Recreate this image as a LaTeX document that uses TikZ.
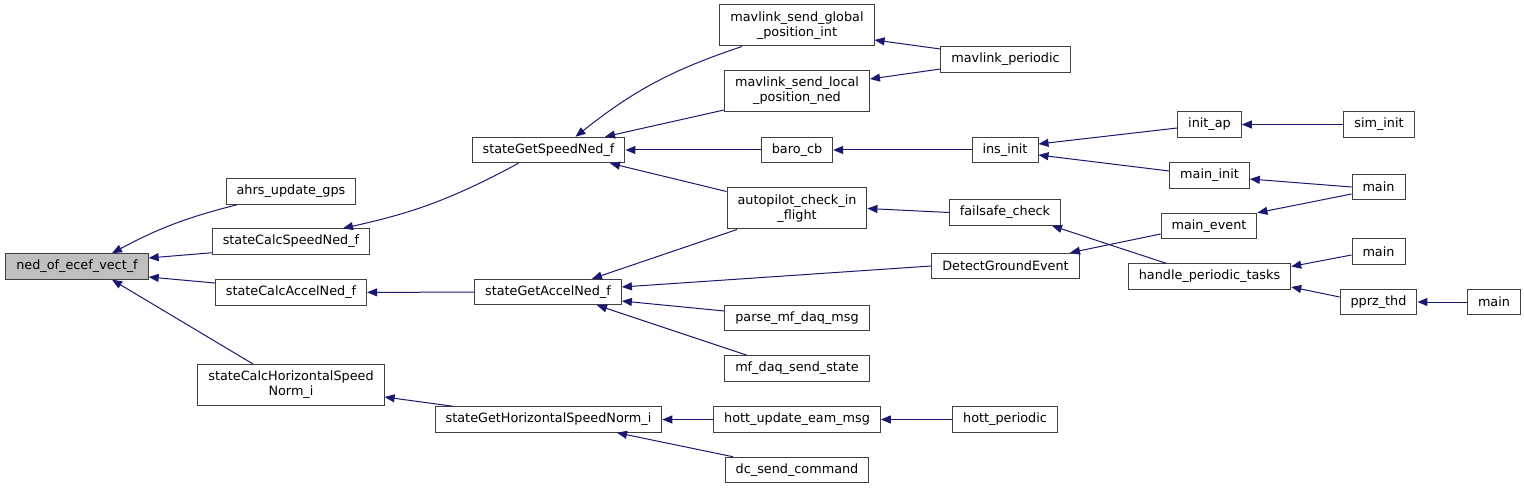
\documentclass[tikz,border=0pt]{standalone}
\usepackage{fontspec}
\setmainfont{DejaVu Sans}
\usetikzlibrary{arrows.meta}
\definecolor{edgeblue}{RGB}{25,25,112}
\definecolor{boxgray}{RGB}{64,64,64}
\definecolor{selgray}{RGB}{191,191,191}
\begin{document}
\begin{tikzpicture}[x=1pt, y=-1pt,
      fn/.style={rectangle, draw=boxgray, fill=white, line width=1pt, minimum height=25.5pt,
                 inner xsep=10.5pt, inner ysep=2pt, font=\fontsize{12.8}{15}\selectfont},
      fn2/.style={fn, minimum height=41pt, align=center},
      fnsel/.style={fn, fill=selgray},
      arr/.style={-{Triangle[length=10pt, width=8pt]}, line width=1pt, edgeblue}]
    \useasboundingbox (0,0) rectangle (1524,489);
    % column 1
    \node[fnsel] (ned) at (77,266.5) {ned\_of\_ecef\_vect\_f};
    % column 2
    \node[fn] (ahrs) at (291,191.5) {ahrs\_update\_gps};
    \node[fn] (calcSpeed) at (291,241.5) {stateCalcSpeedNed\_f};
    \node[fn] (calcAccel) at (291,292.5) {stateCalcAccelNed\_f};
    \node[fn2] (calcHoriz) at (291,385) {stateCalcHorizontalSpeed\\Norm\_i};
    % column 3
    \node[fn] (getSpeed) at (548.5,150) {stateGetSpeedNed\_f};
    \node[fn] (getAccel) at (548,292) {stateGetAccelNed\_f};
    \node[fn] (getHoriz) at (548.5,419.5) {stateGetHorizontalSpeedNorm\_i};
    % column 4
    \node[fn2] (mavGlobal) at (797,25.5) {mavlink\_send\_global\\\_position\_int};
    \node[fn2] (mavLocal) at (797,91) {mavlink\_send\_local\\\_position\_ned};
    \node[fn] (baro) at (797,150) {baro\_cb};
    \node[fn2] (autopilot) at (797,208.5) {autopilot\_check\_in\\\_flight};
    \node[fn] (parse) at (797,318) {parse\_mf\_daq\_msg};
    \node[fn] (mfdaq) at (797,368.5) {mf\_daq\_send\_state};
    \node[fn] (hottUpd) at (797,419.5) {hott\_update\_eam\_msg};
    \node[fn] (dcsend) at (797,470) {dc\_send\_command};
    % column 5
    \node[fn] (mavPeriodic) at (1005.5,59.5) {mavlink\_periodic};
    \node[fn] (insinit) at (1005,150) {ins\_init};
    \node[fn] (failsafe) at (1005,212.5) {failsafe\_check};
    \node[fn] (detect) at (1005.5,266) {DetectGroundEvent};
    \node[fn] (hottPer) at (1005,419.5) {hott\_periodic};
    % column 6
    \node[fn] (initap) at (1209.5,124.5) {init\_ap};
    \node[fn] (maininit) at (1209.5,175.5) {main\_init};
    \node[fn] (mainevent) at (1209,226) {main\_event};
    \node[fn] (handle) at (1209.5,276.5) {handle\_periodic\_tasks};
    % column 7
    \node[fn] (siminit) at (1379,124.5) {sim\_init};
    \node[fn] (mainA) at (1378.5,187) {main};
    \node[fn] (mainB) at (1378.5,251.5) {main};
    \node[fn] (pprz) at (1378.5,302) {pprz\_thd};
    % column 8
    \node[fn] (mainC) at (1494,302) {main};

    % callers of ned_of_ecef_vect_f
    \draw[arr] ([xshift=-54pt]ahrs.south) to[bend right=7] ([xshift=35pt]ned.north);
    \draw[arr] ([yshift=2pt]calcSpeed.south west) -- ([yshift=8.5pt]ned.east);
    \draw[arr] ([yshift=9.5pt]calcAccel.west) -- ([yshift=-10.5pt]ned.east);
    \draw[arr] ([xshift=-38pt]calcHoriz.north) -- ([xshift=35pt]ned.south);
    \draw[arr] ([xshift=-30pt]getSpeed.south) to[bend left=8] ([xshift=52pt]calcSpeed.north);
    \draw[arr] (getAccel) -- (calcAccel);
    \draw[arr] ([xshift=-95.5pt]getHoriz.north) -- ([yshift=-12pt]calcHoriz.east);
    % callers of the state getters
    \draw[arr] ([xshift=-55pt]mavGlobal.south) to[bend right=10] ([xshift=27pt]getSpeed.north);
    \draw[arr] ([yshift=2pt]mavLocal.south west) -- ([xshift=56.5pt]getSpeed.north);
    \draw[arr] (baro) -- (getSpeed);
    \draw[arr] ([yshift=-4pt]autopilot.north west) -- ([xshift=61.5pt]getSpeed.south);
    \draw[arr] ([xshift=-60pt]autopilot.south) -- ([xshift=44pt]getAccel.north);
    \draw[arr] (detect.west) -- ([yshift=5pt]getAccel.east);
    \draw[arr] ([yshift=7pt]parse.west) -- ([yshift=-9pt]getAccel.east);
    \draw[arr] ([xshift=-50pt]mfdaq.north) -- ([xshift=49pt]getAccel.south);
    \draw[arr] (hottUpd) -- (getHoriz);
    \draw[arr] ([xshift=-64pt]dcsend.north) -- ([xshift=68.5pt]getHoriz.south);
    % further up the call chain
    \draw[arr] ([yshift=10.5pt]mavPeriodic.west) -- ([yshift=-14.5pt]mavGlobal.east);
    \draw[arr] ([yshift=-9.5pt]mavPeriodic.west) -- ([yshift=12pt]mavLocal.east);
    \draw[arr] (insinit) -- (baro);
    \draw[arr] (failsafe.west) -- (autopilot.east);
    \draw[arr] (hottPer) -- (hottUpd);
    \draw[arr] ([yshift=-3.5pt]initap.west) -- ([yshift=6pt]insinit.east);
    \draw[arr] ([yshift=4.5pt]maininit.west) -- ([yshift=-5pt]insinit.east);
    \draw[arr] ([yshift=-8pt]mainevent.west) -- ([xshift=64.5pt]detect.north);
    \draw[arr] ([xshift=-43.5pt]handle.north) -- ([xshift=47pt]failsafe.south);
    \draw[arr] (siminit) -- (initap);
    \draw[arr] (mainA.west) -- ([yshift=-3.5pt]maininit.east);
    \draw[arr] ([yshift=-7pt]mainA.west) -- (mainevent.north east);
    \draw[arr] ([yshift=-3.5pt]mainB.west) -- ([yshift=10pt]handle.east);
    \draw[arr] ([yshift=5pt]pprz.west) -- ([yshift=-10.5pt]handle.east);
    \draw[arr] (mainC) -- (pprz);
  \end{tikzpicture}
\end{document}
